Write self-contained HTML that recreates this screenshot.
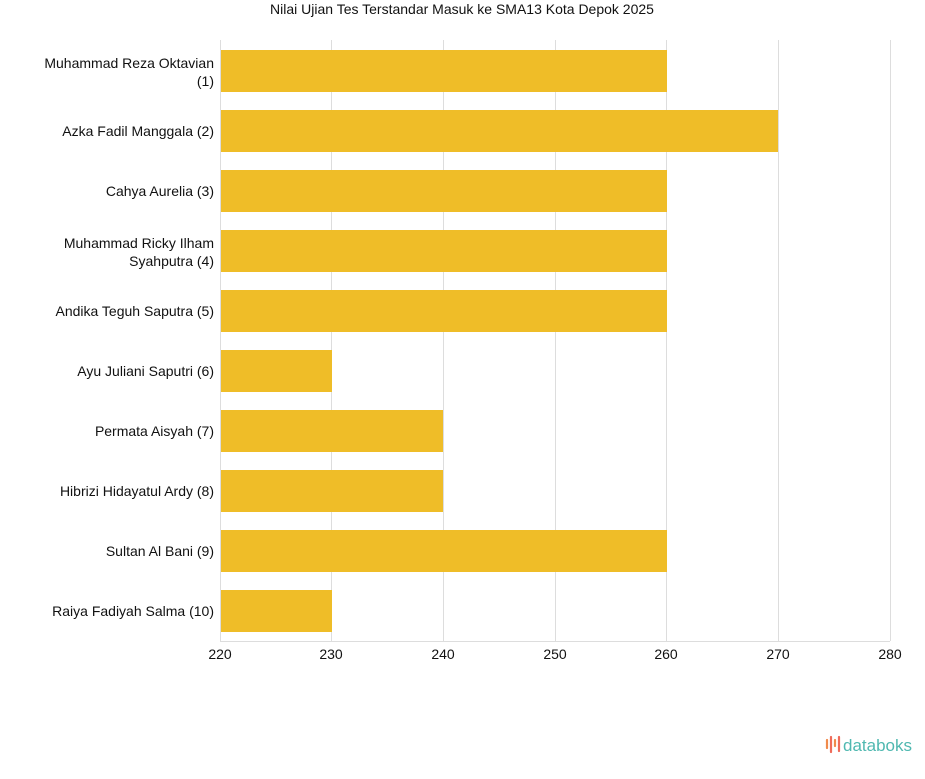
<!DOCTYPE html>
<html><head><meta charset="utf-8"><style>
html,body{margin:0;padding:0;background:#fff;}
text{font-family:"Liberation Sans",sans-serif;}
</style></head><body>
<svg width="925" height="774" viewBox="0 0 925 774" xmlns="http://www.w3.org/2000/svg">
<rect width="925" height="774" fill="#fff"/>
<text x="462" y="14" font-size="14" text-anchor="middle" fill="#111">Nilai Ujian Tes Terstandar Masuk ke SMA13 Kota Depok 2025</text>
<g stroke="#ddd" stroke-width="1">
<line x1="220.5" y1="40" x2="220.5" y2="641"/>
<line x1="331.5" y1="40" x2="331.5" y2="641"/>
<line x1="443.5" y1="40" x2="443.5" y2="641"/>
<line x1="555.5" y1="40" x2="555.5" y2="641"/>
<line x1="666.5" y1="40" x2="666.5" y2="641"/>
<line x1="778.5" y1="40" x2="778.5" y2="641"/>
<line x1="890.5" y1="40" x2="890.5" y2="641"/>
<line x1="220" y1="641.5" x2="890" y2="641.5"/>
</g>
<g fill="#efbd28">
<rect x="221" y="50" width="446" height="42"/>
<rect x="221" y="110" width="557" height="42"/>
<rect x="221" y="170" width="446" height="42"/>
<rect x="221" y="230" width="446" height="42"/>
<rect x="221" y="290" width="446" height="42"/>
<rect x="221" y="350" width="111" height="42"/>
<rect x="221" y="410" width="222" height="42"/>
<rect x="221" y="470" width="222" height="42"/>
<rect x="221" y="530" width="446" height="42"/>
<rect x="221" y="590" width="111" height="42"/>
</g>
<g font-size="14" fill="#111" text-anchor="end">
<text x="214" y="68">Muhammad Reza Oktavian</text>
<text x="214" y="86">(1)</text>
<text x="214" y="136">Azka Fadil Manggala (2)</text>
<text x="214" y="196">Cahya Aurelia (3)</text>
<text x="214" y="248">Muhammad Ricky Ilham</text>
<text x="214" y="266">Syahputra (4)</text>
<text x="214" y="316">Andika Teguh Saputra (5)</text>
<text x="214" y="376">Ayu Juliani Saputri (6)</text>
<text x="214" y="436">Permata Aisyah (7)</text>
<text x="214" y="496">Hibrizi Hidayatul Ardy (8)</text>
<text x="214" y="556">Sultan Al Bani (9)</text>
<text x="214" y="616">Raiya Fadiyah Salma (10)</text>
</g>
<g font-size="14" fill="#111" text-anchor="middle">
<text x="220" y="659">220</text>
<text x="331" y="659">230</text>
<text x="443" y="659">240</text>
<text x="555" y="659">250</text>
<text x="666" y="659">260</text>
<text x="778" y="659">270</text>
<text x="890" y="659">280</text>
</g>
<g stroke-width="2.2" stroke-linecap="round">
<line x1="827" y1="740" x2="827" y2="748" stroke="#f08a4b"/>
<line x1="831" y1="737" x2="831" y2="752" stroke="#ef6b5a"/>
<line x1="835" y1="740" x2="835" y2="746" stroke="#f08a4b"/>
<line x1="839" y1="737" x2="839" y2="751" stroke="#ef6b5a"/>
</g>
<text x="843" y="751" font-size="17" fill="#4fb8b0">databoks</text>
</svg>
</body></html>
